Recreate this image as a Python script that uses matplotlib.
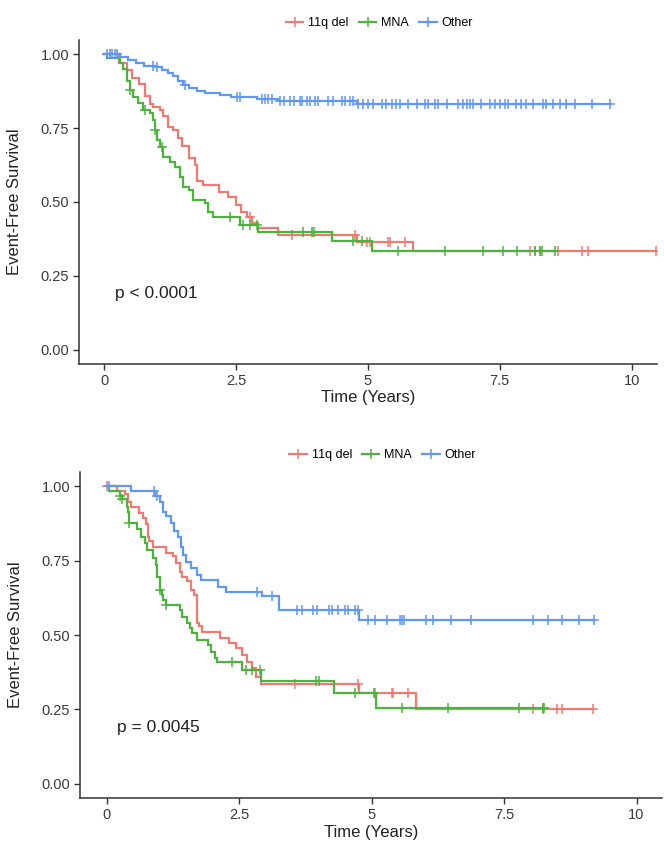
import numpy as np
import matplotlib
matplotlib.use("Agg")
import matplotlib.pyplot as plt
from matplotlib.lines import Line2D

plt.rcParams['font.family'] = ['Liberation Sans', 'DejaVu Sans']

groups = ["11q del", "MNA", "Other"]
colors = ["#F07A72", "#4DB33F", "#5F97F5"]

# ---------------- Top panel ----------------
top_red_t = [0.27, 0.43, 0.53, 0.65, 0.78, 0.87, 0.93, 1.06, 1.12, 1.21, 1.31, 1.40, 1.48, 1.60, 1.72, 1.76, 1.88,
             2.18, 2.35, 2.50, 2.60, 2.70, 2.80, 2.92, 3.30, 4.80, 5.86]
top_red_s = [0.97, 0.946, 0.92, 0.90, 0.86, 0.83, 0.82, 0.81, 0.79, 0.755, 0.745, 0.715, 0.69, 0.65, 0.625, 0.57, 0.557,
             0.535, 0.517, 0.49, 0.466, 0.45, 0.43, 0.412, 0.39, 0.365, 0.334]
top_red_end = 10.47
top_red_cens = [2.77, 3.56, 4.75, 4.98, 5.04, 5.38, 5.42, 5.70, 8.07, 8.16, 8.26, 8.60, 9.05, 9.17, 10.47]

top_grn_t = [0.05, 0.30, 0.36, 0.43, 0.49, 0.55, 0.64, 0.74, 0.87, 0.93, 0.97, 1.00, 1.06, 1.12, 1.25, 1.34, 1.44,
             1.50, 1.60, 1.69, 1.91, 1.97, 2.06, 2.58, 2.92, 4.32, 5.07]
top_grn_s = [0.986, 0.97, 0.95, 0.91, 0.88, 0.855, 0.834, 0.81, 0.80, 0.777, 0.743, 0.71, 0.686, 0.652, 0.635, 0.618,
             0.585, 0.55, 0.54, 0.507, 0.497, 0.466, 0.449, 0.422, 0.40, 0.368, 0.334]
top_grn_end = 8.54
top_grn_cens = [0.49, 0.78, 0.97, 1.10, 2.39, 2.63, 2.77, 2.90, 3.77, 3.94, 3.97, 4.72, 4.88, 5.57, 6.46, 7.18,
                7.56, 7.83, 8.16, 8.27, 8.30, 8.54]

top_blu_t = [0.30, 0.45, 0.60, 0.75, 1.00, 1.10, 1.20, 1.30, 1.40, 1.50, 1.60, 1.75, 1.90, 2.20, 2.40, 2.90, 3.30, 4.80]
top_blu_s = [0.99, 0.98, 0.97, 0.96, 0.955, 0.945, 0.935, 0.925, 0.91, 0.895, 0.885, 0.875, 0.868, 0.862, 0.855,
             0.848, 0.84, 0.831]
top_blu_end = 9.58
top_blu_cens = [0.05, 0.10, 0.15, 0.20, 0.25, 0.93, 1.00, 1.53, 2.52, 2.58, 2.99, 3.05, 3.11, 3.18, 3.33, 3.40,
                3.52, 3.59, 3.71, 3.74, 3.84, 3.90, 4.00, 4.06, 4.25, 4.34, 4.50, 4.56, 4.66, 4.72, 4.81, 4.91,
                5.00, 5.10, 5.26, 5.35, 5.45, 5.54, 5.61, 5.76, 5.92, 6.08, 6.14, 6.27, 6.33, 6.49, 6.71, 6.80,
                6.87, 6.93, 6.99, 7.15, 7.31, 7.41, 7.50, 7.59, 7.66, 7.81, 7.91, 8.00, 8.13, 8.32, 8.38, 8.51,
                8.64, 8.76, 8.92, 9.24, 9.58]

# ---------------- Bottom panel ----------------
bot_red_t = [0.20, 0.34, 0.40, 0.47, 0.62, 0.68, 0.75, 0.78, 0.81, 0.87, 1.13, 1.25, 1.32, 1.38, 1.43, 1.51, 1.60,
             1.66, 1.70, 1.75, 1.81, 2.15, 2.32, 2.45, 2.55, 2.66, 2.75, 2.82, 2.92, 4.77, 5.83]
bot_red_s = [0.983, 0.973, 0.946, 0.93, 0.91, 0.895, 0.872, 0.83, 0.815, 0.797, 0.777, 0.764, 0.743, 0.713, 0.696,
             0.68, 0.652, 0.635, 0.54, 0.53, 0.51, 0.49, 0.473, 0.456, 0.432, 0.409, 0.39, 0.358, 0.334, 0.304, 0.25]
bot_red_end = 9.17
bot_red_cens = [0.0, 3.55, 4.74, 5.06, 5.38, 5.40, 5.68, 8.04, 8.23, 8.50, 8.60, 9.17]

bot_grn_t = [0.05, 0.25, 0.30, 0.38, 0.40, 0.43, 0.58, 0.66, 0.72, 0.77, 0.87, 0.94, 0.96, 1.00, 1.04, 1.06, 1.13,
             1.38, 1.43, 1.51, 1.57, 1.62, 1.70, 1.91, 1.98, 2.04, 2.08, 2.55, 2.92, 4.30, 5.08]
bot_grn_s = [0.983, 0.966, 0.956, 0.932, 0.915, 0.878, 0.855, 0.83, 0.81, 0.787, 0.76, 0.736, 0.696, 0.652, 0.635,
             0.618, 0.60, 0.584, 0.56, 0.54, 0.523, 0.507, 0.483, 0.466, 0.443, 0.422, 0.409, 0.382, 0.345, 0.304,
             0.253]
bot_grn_end = 8.26
bot_grn_cens = [0.25, 0.30, 0.43, 1.00, 1.13, 2.36, 2.64, 2.75, 2.89, 3.96, 4.00, 4.68, 5.04, 5.57, 6.44, 7.79,
                8.23, 8.26]

bot_blu_t = [0.47, 0.92, 1.00, 1.06, 1.13, 1.22, 1.28, 1.34, 1.41, 1.44, 1.50, 1.60, 1.70, 1.79, 2.10, 2.26, 2.94,
             3.25, 4.77]
bot_blu_s = [0.983, 0.966, 0.946, 0.915, 0.90, 0.878, 0.848, 0.828, 0.797, 0.77, 0.747, 0.726, 0.703, 0.686, 0.662,
             0.645, 0.63, 0.584, 0.55]
bot_blu_end = 9.20
bot_blu_cens = [0.05, 0.90, 0.96, 2.83, 3.13, 3.60, 3.68, 3.89, 3.98, 4.20, 4.25, 4.37, 4.50, 4.55, 4.68, 4.74,
                4.93, 5.06, 5.29, 5.53, 5.58, 5.62, 6.03, 6.16, 6.50, 6.88, 8.04, 8.32, 8.60, 8.92, 9.20]

x_ticks = [0, 2.5, 5, 7.5, 10]
x_tick_labels = ["0", "2.5", "5", "7.5", "10"]
y_ticks = [0.0, 0.25, 0.5, 0.75, 1.0]
y_tick_labels = ["0.00", "0.25", "0.50", "0.75", "1.00"]
pvals = ["p < 0.0001", "p = 0.0045"]


def km(ax, t, s, end, cens, color):
    xs = np.concatenate([[0.0], t, [end]])
    ys = np.concatenate([[1.0], s, [s[-1]]])
    ax.plot(xs, ys, drawstyle="steps-post", color=color, lw=1.6, solid_joinstyle="miter")
    t_arr = np.asarray(t)
    s_arr = np.concatenate([[1.0], s])
    idx = np.searchsorted(t_arr, np.asarray(cens), side="right")
    ax.plot(cens, s_arr[idx], ls="none", marker="+", ms=6.5, mew=1.1, color=color)


fig = plt.figure(figsize=(6.64, 8.41), dpi=100)
ax1 = fig.add_axes([79 / 664, 1 - 364 / 841, (657 - 79) / 664, (364 - 40) / 841])
ax2 = fig.add_axes([80 / 664, 1 - 798 / 841, (662 - 80) / 664, (798 - 472) / 841])

panels = [
    (ax1, [(top_red_t, top_red_s, top_red_end, top_red_cens),
           (top_grn_t, top_grn_s, top_grn_end, top_grn_cens),
           (top_blu_t, top_blu_s, top_blu_end, top_blu_cens)], pvals[0], (-0.48, 10.48)),
    (ax2, [(bot_red_t, bot_red_s, bot_red_end, bot_red_cens),
           (bot_grn_t, bot_grn_s, bot_grn_end, bot_grn_cens),
           (bot_blu_t, bot_blu_s, bot_blu_end, bot_blu_cens)], pvals[1], (-0.5, 10.48)),
]

for ax, curves, ptxt, xl in panels:
    for (t, s, end, cens), c in zip(curves, colors):
        km(ax, t, s, end, cens, c)
    ax.set_xlim(*xl)
    ax.set_ylim(-0.048, 1.048)
    ax.set_xticks(x_ticks)
    ax.set_xticklabels(x_tick_labels)
    ax.set_yticks(y_ticks)
    ax.set_yticklabels(y_tick_labels)
    for sp in ["top", "right"]:
        ax.spines[sp].set_visible(False)
    for sp in ["left", "bottom"]:
        ax.spines[sp].set_color("#333333")
        ax.spines[sp].set_linewidth(1.1)
    ax.tick_params(axis="both", colors="#333333", length=4, width=1.0, labelsize=10.5, labelcolor="#3a3a3a", pad=3)
    ax.set_xlabel("Time (Years)", fontsize=12, color="#222222", labelpad=2)
    ax.set_ylabel("Event-Free Survival", fontsize=12, color="#222222", labelpad=13)
    ax.text(0.2, 0.19, ptxt, fontsize=12.5, color="#222222", ha="left", va="center")
    handles = [Line2D([0], [0], color=c, lw=1.6, marker="+", ms=7, mew=1.1) for c in colors]
    ax.legend(handles, groups, loc="lower center", bbox_to_anchor=(0.52, 1.01), ncol=3, frameon=False,
              fontsize=9, handlelength=1.4, handletextpad=0.4, columnspacing=0.8, borderaxespad=0.2)

fig.savefig("out.png", dpi=100)
